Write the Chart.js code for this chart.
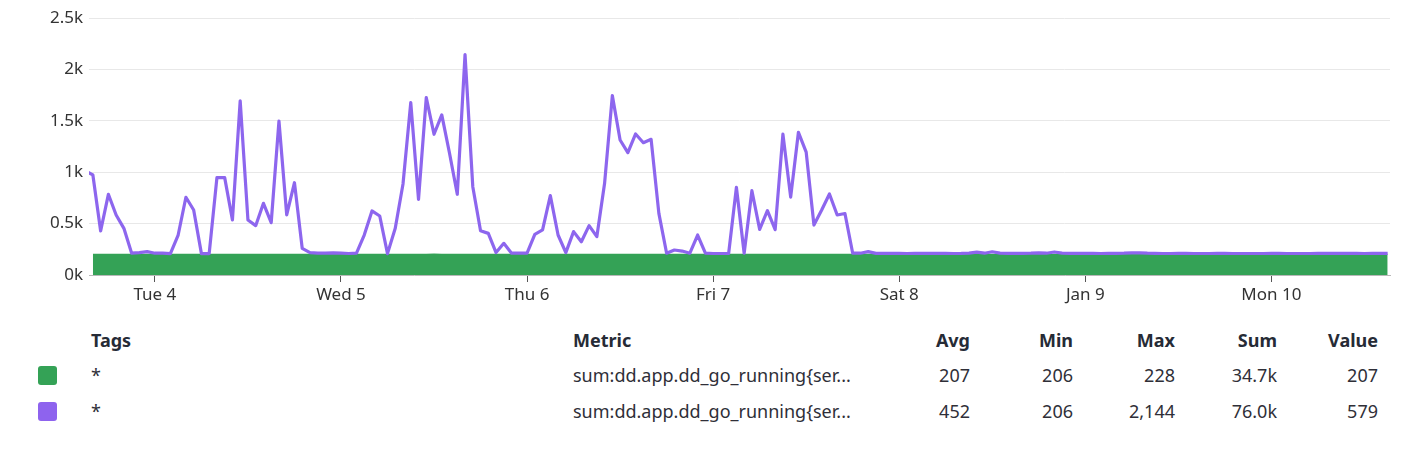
<!DOCTYPE html>
<html>
<head>
<meta charset="utf-8">
<script src="https://cdn.jsdelivr.net/npm/chart.js@4.4.1/dist/chart.umd.min.js"></script>
<style>
  html, body { margin: 0; padding: 0; background: #fff; }
  body { width: 1410px; height: 454px; position: relative; overflow: hidden; font-family: 'Noto Sans', 'Open Sans', sans-serif; }
  #wrap { position: absolute; left: 0; top: 0; width: 1410px; height: 312px; }
  .cell { position: absolute; line-height: 24px; height: 24px; white-space: nowrap; color: #2f2f38; font-size: 18px; }
  .head { font-weight: 700; font-size: 18px; color: #262b36; }
  .r { text-align: right; }
  .sw { position: absolute; left: 38px; width: 19px; height: 19px; border-radius: 3px; }
</style>
</head>
<body>
<div id="wrap"><canvas id="chart" width="1410" height="312"></canvas></div>
<div id="legend"></div>
<script>
(function () {
  'use strict';

  // hourly points; the series start Mon 3 16:00 (hour -8 relative to Tue 4 00:00)
  var START_HOUR = -8;

  // purple series (dd_go_running), one row per day
  var PURPLE_BEFORE = 1015; // the point just before the left edge (hour -9)
  var PURPLE_MON3 = [973, 428, 785, 584, 454, 212, 218, 228];
  var PURPLE_TUE4 = [212, 212, 208, 389, 756, 632, 208, 208, 947, 947, 535, 1693, 535, 480, 697, 509, 1498, 584, 898, 259, 218, 212, 212, 216];
  var PURPLE_WED5 = [212, 209, 212, 389, 623, 574, 208, 454, 885, 1677, 736, 1725, 1369, 1557, 1184, 785, 2144, 859, 431, 405, 218, 308, 212, 212];
  var PURPLE_THU6 = [212, 396, 438, 772, 389, 218, 422, 324, 480, 373, 892, 1745, 1313, 1190, 1372, 1287, 1320, 600, 212, 243, 233, 212, 389, 212];
  var PURPLE_FRI7 = [209, 209, 209, 853, 212, 820, 444, 626, 441, 1370, 758, 1388, 1195, 486, 632, 788, 584, 598, 212, 212, 227, 210, 211, 210];
  var PURPLE_SAT8 = [210, 209, 210, 210, 211, 210, 210, 209, 210, 213, 222, 212, 226, 213, 211, 210, 210, 212, 216, 212, 224, 213, 211, 210];
  var PURPLE_SUN9 = [210, 210, 209, 210, 211, 212, 215, 216, 212, 210, 209, 209, 210, 210, 209, 209, 209, 210, 210, 209, 209, 209, 209, 209];
  var PURPLE_MON10 = [210, 210, 209, 209, 209, 209, 210, 210, 211, 211, 210, 210, 209, 210, 210, 211];

  // green series
  var GREEN_MON3 = [207, 207, 207, 207, 207, 207, 207, 207];
  var GREEN_TUE4 = [207, 207, 207, 207, 207, 207, 207, 207, 207, 207, 207, 207, 207, 207, 207, 207, 207, 207, 207, 207, 207, 207, 207, 207];
  var GREEN_WED5 = [207, 207, 207, 207, 207, 207, 207, 207, 207, 207, 207, 207, 208, 207, 207, 207, 207, 207, 207, 207, 207, 207, 207, 207];
  var GREEN_THU6 = [207, 207, 207, 207, 207, 207, 207, 207, 207, 207, 207, 207, 207, 207, 207, 207, 207, 207, 207, 207, 207, 207, 207, 207];
  var GREEN_FRI7 = [207, 207, 207, 207, 207, 207, 207, 207, 207, 207, 207, 207, 207, 207, 207, 207, 207, 207, 207, 207, 207, 207, 207, 207];
  var GREEN_SAT8 = [207, 207, 207, 207, 207, 207, 207, 207, 207, 207, 207, 207, 207, 207, 207, 207, 207, 207, 207, 207, 207, 207, 207, 207];
  var GREEN_SUN9 = [207, 207, 207, 207, 207, 207, 207, 207, 207, 207, 207, 207, 207, 207, 207, 207, 207, 207, 207, 207, 207, 207, 207, 207];
  var GREEN_MON10 = [207, 207, 207, 207, 207, 207, 207, 207, 207, 207, 206, 207, 207, 207, 207, 207];

  var TICK_HOURS = [0, 24, 48, 72, 96, 120, 144];
  var TICK_LABELS = ['Tue 4', 'Wed 5', 'Thu 6', 'Fri 7', 'Sat 8', 'Jan 9', 'Mon 10'];
  var Y_TICKS = [0, 500, 1000, 1500, 2000, 2500];

  // legend table
  var COLUMNS = ['Avg', 'Min', 'Max', 'Sum', 'Value'];
  var ROWS = [
    { color: '#34a256', tag: '*', metric: 'sum:dd.app.dd_go_running{ser...', stats: ['207', '206', '228', '34.7k', '207'] },
    { color: '#8e63ee', tag: '*', metric: 'sum:dd.app.dd_go_running{ser...', stats: ['452', '206', '2,144', '76.0k', '579'] }
  ];

  var purple = [PURPLE_BEFORE].concat(PURPLE_MON3, PURPLE_TUE4, PURPLE_WED5, PURPLE_THU6, PURPLE_FRI7, PURPLE_SAT8, PURPLE_SUN9, PURPLE_MON10);
  var green = [].concat(GREEN_MON3, GREEN_TUE4, GREEN_WED5, GREEN_THU6, GREEN_FRI7, GREEN_SAT8, GREEN_SUN9, GREEN_MON10);

  var purplePts = purple.map(function (v, i) { return { x: START_HOUR - 1 + i, y: v }; });
  var greenPts = green.map(function (v, i) { return { x: START_HOUR + i, y: v }; });

  var font = { family: "'Noto Sans', 'Open Sans', sans-serif", size: 17 };

  new Chart(document.getElementById('chart').getContext('2d'), {
    type: 'line',
    data: {
      datasets: [{
        label: 'purple',
        data: purplePts,
        borderColor: '#8d66ee',
        borderWidth: 3.2,
        borderJoinStyle: 'round',
        pointRadius: 0,
        tension: 0,
        fill: false,
        order: 0
      }, {
        label: 'green',
        data: greenPts,
        borderColor: '#34a256',
        backgroundColor: '#34a256',
        borderWidth: 0,
        pointRadius: 0,
        tension: 0,
        fill: 'origin',
        order: 1
      }]
    },
    options: {
      responsive: false,
      animation: false,
      events: [],
      layout: { padding: { top: 18, right: 20, left: 0, bottom: 0 } },
      plugins: { legend: { display: false }, tooltip: { enabled: false } },
      scales: {
        x: {
          type: 'linear',
          min: -8.5,
          max: 159.3,
          afterBuildTicks: function (s) { s.ticks = TICK_HOURS.map(function (h) { return { value: h }; }); },
          afterFit: function (s) { s.height = 37; },
          grid: { drawOnChartArea: false, drawTicks: true, tickLength: 7, tickColor: '#555' },
          border: { display: true, color: '#b8b8b8', width: 1 },
          ticks: {
            autoSkip: false,
            maxRotation: 0,
            padding: 3,
            color: '#333',
            font: font,
            callback: function (v) { return TICK_LABELS[TICK_HOURS.indexOf(v)]; }
          }
        },
        y: {
          min: 0,
          max: 2500,
          afterBuildTicks: function (s) { s.ticks = Y_TICKS.map(function (v) { return { value: v }; }); },
          afterFit: function (s) { s.width = 89; },
          grid: { color: '#e8e8e8', drawTicks: false },
          border: { display: false },
          ticks: {
            padding: 6,
            color: '#333',
            font: font,
            callback: function (v) { return (v / 1000) + 'k'; }
          }
        }
      }
    }
  });

  // legend table below the chart
  var legend = document.getElementById('legend');
  var html = '';
  var rights = [970, 1073, 1175, 1277, 1378];
  html += '<div class="cell head" style="left:91px;top:328px">Tags</div>';
  html += '<div class="cell head" style="left:573px;top:328px">Metric</div>';
  COLUMNS.forEach(function (c, i) {
    html += '<div class="cell head r" style="left:' + (rights[i] - 100) + 'px;width:100px;top:328px">' + c + '</div>';
  });
  ROWS.forEach(function (r, j) {
    var top = 363 + j * 36;
    html += '<div class="sw" style="background:' + r.color + ';top:' + (top + 3) + 'px"></div>';
    html += '<div class="cell" style="left:91px;top:' + top + 'px">' + r.tag + '</div>';
    html += '<div class="cell" style="left:573px;top:' + top + 'px">' + r.metric + '</div>';
    r.stats.forEach(function (s, i) {
      html += '<div class="cell r" style="left:' + (rights[i] - 100) + 'px;width:100px;top:' + top + 'px">' + s + '</div>';
    });
  });
  legend.innerHTML = html;
})();
</script>
</body>
</html>
